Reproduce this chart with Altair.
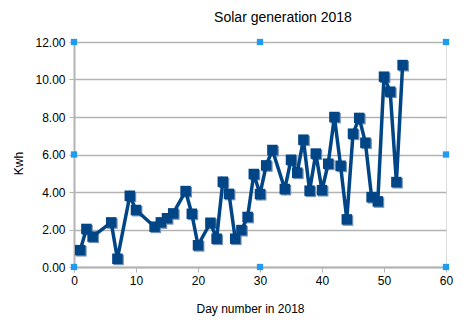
import altair as alt
import pandas as pd

days = [1, 2, 3, 6, 7, 9, 10, 13, 14, 15, 16, 18, 19, 20, 22, 23, 24, 25, 26, 27,
        28, 29, 30, 31, 32, 34, 35, 36, 37, 38, 39, 40, 41, 42, 43, 44, 45, 46, 47,
        48, 49, 50, 51, 52, 53]
kwh = [0.90, 2.03, 1.62, 2.38, 0.44, 3.80, 3.04, 2.15, 2.38, 2.60, 2.86, 4.05, 2.84,
       1.16, 2.36, 1.51, 4.55, 3.90, 1.51, 1.97, 2.67, 4.96, 3.89, 5.42, 6.24, 4.16,
       5.72, 5.03, 6.79, 4.07, 6.05, 4.10, 5.51, 8.00, 5.40, 2.54, 7.11, 7.95, 6.63,
       3.73, 3.50, 10.15, 9.35, 4.53, 10.77]

# selection handles (LibreOffice edit handles) in data units
handle_x = [0, 30, 60, 0, 60, 0, 30, 60]
handle_y = [0, 0, 0, 6, 6, 12, 12, 12]

x_ticks = [0, 10, 20, 30, 40, 50, 60]
y_ticks = [0, 2, 4, 6, 8, 10, 12]

df = pd.DataFrame({"day": days, "kwh": kwh})
hdf = pd.DataFrame({"day": handle_x, "kwh": handle_y})

FONT = "Liberation Sans"
GRID = "#b3b3b3"
BLUE = "#004586"

xscale = alt.Scale(domain=[0, 60], nice=False)
yscale = alt.Scale(domain=[0, 12], nice=False)

xaxis = alt.Axis(values=x_ticks, title="Day number in 2018", grid=False,
                 labelOverlap=False, labelFlush=False,
                 tickSize=5, tickColor=GRID, domainColor=GRID, domainWidth=2,
                 labelFont=FONT, labelFontSize=12, labelColor="#000000", labelPadding=3,
                 titleFont=FONT, titleFontSize=12, titleFontWeight="normal",
                 titleColor="#000000", titleX=176, titleY=45,
                 titleBaseline="alphabetic", titleAlign="center")
yaxis = alt.Axis(values=y_ticks, format=".2f", title="Kwh", grid=True,
                 labelOverlap=False, labelFlush=False,
                 gridColor=GRID, gridWidth=1.5,
                 tickSize=5, tickColor=GRID, domainColor=GRID, domainWidth=2,
                 labelFont=FONT, labelFontSize=12, labelColor="#000000", labelPadding=4,
                 titleFont=FONT, titleFontSize=12, titleFontWeight="normal",
                 titleColor="#000000", titleX=-52, titleY=121, titleAngle=-90,
                 titleBaseline="alphabetic", titleAlign="center")

X = alt.X("day:Q", scale=xscale, axis=xaxis)
Y = alt.Y("kwh:Q", scale=yscale, axis=yaxis)

base = alt.Chart(df)
shadow = base.mark_point(shape="square", filled=True, size=110, opacity=1,
                         color="#6f8fb3").encode(x=X, y=Y, xOffset=alt.value(1.2),
                                                 yOffset=alt.value(1.2))
line = base.mark_line(color=BLUE, strokeWidth=3.5).encode(x=X, y=Y)
pts = base.mark_point(shape="square", filled=True, size=110, opacity=1,
                      color=BLUE).encode(x=X, y=Y)
handles = alt.Chart(hdf).mark_point(shape="square", filled=True, size=40, opacity=1,
                                    color="#1f9bf0", clip=False).encode(x=X, y=Y)

chart = alt.layer(shadow, line, pts, handles).properties(
    width=372, height=225,
    autosize=alt.AutoSizeParams(type="none"),
    padding={"left": 74, "top": 42, "right": 25, "bottom": 62},
    title=alt.TitleParams("Solar generation 2018", font=FONT, fontSize=14,
                          fontWeight="normal", color="#000000", anchor="middle",
                          frame="group", dx=23, offset=0, baseline="alphabetic"),
).configure_view(stroke=GRID, strokeWidth=1.5).configure(background="white")

chart.save("out.html", embed_options={"renderer": "svg", "actions": False})
